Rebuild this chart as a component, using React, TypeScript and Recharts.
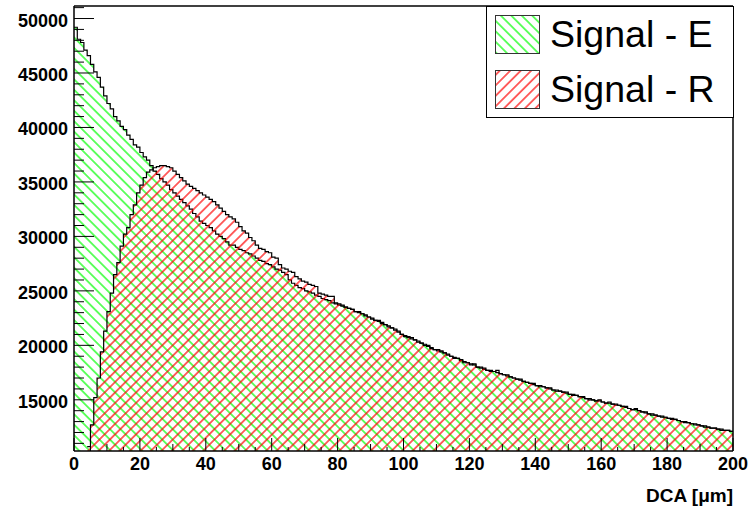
import React from 'react';
import { ComposedChart, Area, XAxis, YAxis, ReferenceLine } from 'recharts';

// bin contents, 1 um bins from 0 to 200
const signalE = [
  49200, 48100, 47800, 47100, 46600, 45800, 45100, 44600, 43700, 42900,
  42200, 41700, 41000, 40600, 40100, 39800, 39300, 38900, 38400, 38200,
  37700, 37300, 37000, 36500, 36000, 35700, 35300, 35000, 34700, 34300,
  34000, 33700, 33400, 33100, 32800, 32500, 32100, 31800, 31400, 31200,
  31000, 30800, 30500, 30200, 30000, 29800, 29500, 29200, 29200, 29000,
  28800, 28700, 28500, 28400, 28200, 28000, 27800, 27700, 27500, 27400,
  27200, 27000, 26900, 26700, 26500, 26000, 25700, 25500, 25300, 25200,
  25000, 24900, 24800, 24600, 24500, 24300, 24200, 24100, 23900, 23800,
  23700, 23600, 23500, 23400, 23300, 23100, 23000, 22900, 22700, 22600,
  22500, 22300, 22200, 22100, 21900, 21800, 21600, 21500, 21200, 21000,
  20900, 20700, 20700, 20500, 20400, 20200, 20100, 19900, 19800, 19600,
  19500, 19500, 19300, 19100, 19000, 18900, 18800, 18600, 18500, 18400,
  18300, 18200, 18000, 18000, 17800, 17700, 17700, 17600, 17500, 17400,
  17300, 17200, 17100, 17000, 16900, 16800, 16700, 16600, 16500, 16400,
  16300, 16300, 16200, 16100, 16000, 15900, 15900, 15800, 15700, 15600,
  15500, 15500, 15400, 15300, 15200, 15100, 15100, 15000, 14900, 14900,
  14800, 14700, 14700, 14600, 14500, 14500, 14400, 14300, 14200, 14100,
  14100, 14000, 13900, 13800, 13700, 13700, 13600, 13500, 13500, 13400,
  13300, 13200, 13200, 13100, 13000, 13000, 12900, 12800, 12800, 12700,
  12600, 12600, 12500, 12400, 12400, 12300, 12300, 12200, 12200, 12100,
];

const signalR = [
  null, null, null, null, 10700, 12700, 15200, 17000, 19400, 21300,
  23100, 24800, 26500, 27600, 29100, 30200, 30800, 32000, 32900, 34000,
  34700, 35400, 35900, 36100, 36300, 36400, 36500, 36500, 36400, 36300,
  36000, 35700, 35400, 35100, 34800, 34600, 34400, 34200, 34000, 33800,
  33600, 33400, 33200, 32900, 32600, 32300, 32000, 31800, 31600, 31300,
  30900, 30500, 30300, 29900, 29600, 29200, 28900, 28800, 28600, 28500,
  28100, 28000, 27400, 27100, 27000, 26800, 26700, 26300, 26100, 25900,
  25800, 25600, 25500, 25400, 24800, 24700, 24600, 24500, 24500, 23900,
  23800, 23700, 23500, 23400, 23300, 23100, 23100, 22900, 22800, 22600,
  22400, 22300, 22300, 22000, 21900, 21700, 21600, 21400, 21300, 21000,
  20800, 20800, 20600, 20500, 20300, 20200, 20000, 20000, 19700, 19600,
  19600, 19400, 19300, 19200, 19000, 18800, 18800, 18700, 18400, 18400,
  18200, 18300, 18000, 17900, 17900, 17700, 17600, 17600, 17700, 17400,
  17300, 17300, 17100, 17000, 16900, 16900, 16700, 16600, 16500, 16500,
  16300, 16200, 16200, 16100, 16100, 15900, 15800, 15800, 15700, 15700,
  15500, 15400, 15400, 15300, 15300, 15100, 15000, 15000, 14900, 15000,
  14800, 14700, 14800, 14600, 14600, 14500, 14400, 14400, 14200, 14100,
  14200, 14000, 13900, 13900, 13700, 13600, 13600, 13500, 13400, 13400,
  13300, 13300, 13200, 13100, 13000, 12900, 12900, 12800, 12700, 12700,
  12600, 12500, 12500, 12400, 12400, 12300, 12200, 12200, 12200, 12100,
];

const xTicks = Array.from({ length: 41 }, (_, i) => i * 5);
const yTicks = Array.from({ length: 41 }, (_, i) => 11000 + i * 1000);
const legendNames = ['Signal - E', 'Signal - R'];

// stepAfter needs a closing point at the upper edge of the last bin
const data = signalE.map((e, i) => ({ x: i, e, r: signalR[i] }));
data.push({ x: 200, e: signalE[199], r: signalR[199] });

const font = '"Liberation Sans", Arial, Helvetica, sans-serif';

function XTick(props: any) {
  const { x, y, payload } = props;
  const v = payload.value;
  const len = v % 20 === 0 ? 13 : v % 10 === 0 ? 7 : 4;
  return (
    <g>
      <line x1={x} x2={x} y1={y} y2={y - len} stroke="#000" strokeWidth={1} />
      {v % 20 === 0 && (
        <text x={x} y={y + 19} textAnchor="middle" fontFamily={font} fontWeight="bold" fontSize={18} fill="#000">
          {v}
        </text>
      )}
    </g>
  );
}

function YTick(props: any) {
  const { x, y, payload } = props;
  const v = payload.value;
  const major = v % 5000 === 0;
  return (
    <g>
      <line x1={x} x2={x + (major ? 20 : 10)} y1={y} y2={y} stroke="#000" strokeWidth={1} />
      {major && (
        <text x={x - 6} y={y + 8} textAnchor="end" fontFamily={font} fontWeight="bold" fontSize={18} fill="#000">
          {v}
        </text>
      )}
    </g>
  );
}

function Hatches() {
  return (
    <defs>
      <pattern id="hatchE" patternUnits="userSpaceOnUse" width="7.4" height="7.4" patternTransform="rotate(-45)">
        <line x1="3.7" y1="-1" x2="3.7" y2="8.4" stroke="#00ff00" strokeWidth="1.2" />
      </pattern>
      <pattern id="hatchR" patternUnits="userSpaceOnUse" width="7.4" height="7.4" patternTransform="rotate(45)">
        <line x1="3.7" y1="-1" x2="3.7" y2="8.4" stroke="#ff0000" strokeWidth="1.2" />
      </pattern>
    </defs>
  );
}

export default function App() {
  return (
    <div style={{ position: 'absolute', left: 0, top: 0, width: 754, height: 510, background: '#fff' }}>
      <ComposedChart width={754} height={510} data={data} margin={{ top: 6, right: 21, bottom: 0, left: 0 }}>
        <Hatches />
        <XAxis
          dataKey="x"
          type="number"
          domain={[0, 200]}
          allowDataOverflow
          ticks={xTicks}
          interval={0}
          height={59}
          tickSize={0}
          tickMargin={0}
          tick={<XTick />}
          axisLine={{ stroke: '#000', strokeWidth: 1.5 }}
          tickLine={false}
        />
        <YAxis
          type="number"
          domain={[10300, 51150]}
          allowDataOverflow
          ticks={yTicks}
          interval={0}
          width={74}
          tickSize={0}
          tickMargin={0}
          tick={<YTick />}
          axisLine={{ stroke: '#000', strokeWidth: 1.5 }}
          tickLine={false}
        />
        <Area
          type="stepAfter"
          dataKey="e"
          stroke="#000"
          strokeWidth={1.2}
          fill="url(#hatchE)"
          fillOpacity={1}
          dot={false}
          activeDot={false}
          isAnimationActive={false}
        />
        <Area
          type="stepAfter"
          dataKey="r"
          stroke="#000"
          strokeWidth={1.2}
          fill="url(#hatchR)"
          fillOpacity={1}
          dot={false}
          activeDot={false}
          isAnimationActive={false}
        />
        <ReferenceLine y={51150} stroke="#000" strokeWidth={1.5} />
        <ReferenceLine x={200} stroke="#000" strokeWidth={1.5} />
        <text x={733} y={502} textAnchor="end" fontFamily={font} fontWeight="bold" fontSize={19} fill="#000">
          DCA [μm]
        </text>
      </ComposedChart>
      <svg width={248} height={112} style={{ position: 'absolute', left: 486, top: 6 }}>
        <rect x={0.5} y={0.5} width={247} height={111} fill="#fff" stroke="#000" strokeWidth={1} />
        {legendNames.map((name, i) => (
          <g key={name}>
            <rect
              x={9.5}
              y={9.5 + i * 55}
              width={44}
              height={38}
              fill={i === 0 ? 'url(#hatchE)' : 'url(#hatchR)'}
              stroke="#333"
              strokeWidth={1}
            />
            <text x={64} y={41 + i * 55} fontFamily={font} fontSize={37.5} fill="#000">
              {name}
            </text>
          </g>
        ))}
      </svg>
    </div>
  );
}
